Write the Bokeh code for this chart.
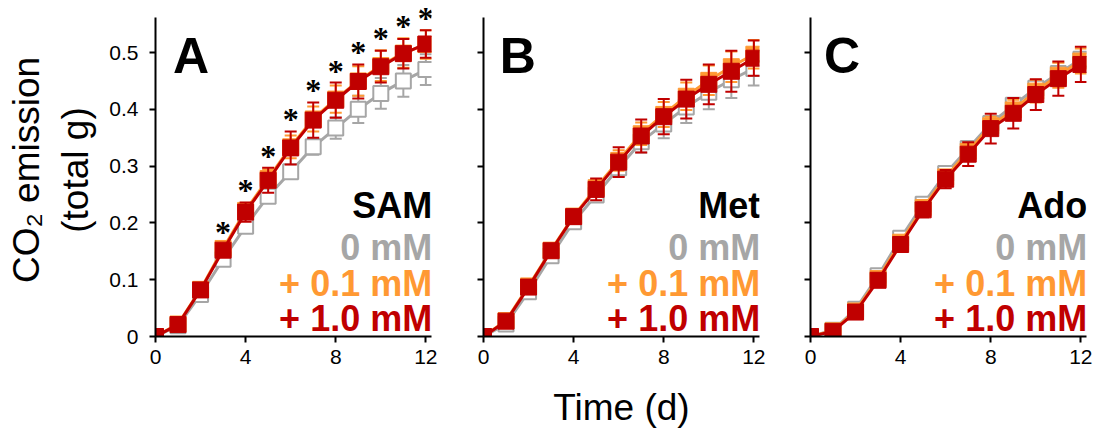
from bokeh.plotting import figure
from bokeh.layouts import row
from bokeh.models import Label, LabelSet, FixedTicker, Range1d, ColumnDataSource
from bokeh.embed import file_html
from bokeh.resources import INLINE

days = list(range(13))
x_ticks = [0, 4, 8, 12]
y_ticks = [0, 0.1, 0.2, 0.3, 0.4, 0.5]
y_tick_labels = {0: "0", 0.1: "0.1", 0.2: "0.2", 0.3: "0.3", 0.4: "0.4", 0.5: "0.5"}

panel_letters = ["A", "B", "C"]
compounds = ["SAM", "Met", "Ado"]
dose_labels = ["0 mM", "+ 0.1 mM", "+ 1.0 mM"]

# Panel A (SAM)
sam_0 = [0, 0.019, 0.074, 0.136, 0.194, 0.247, 0.290, 0.334, 0.367, 0.400, 0.428, 0.450, 0.470]
sam_0_err = [0, 0.003, 0.005, 0.008, 0.010, 0.011, 0.012, 0.014, 0.019, 0.024, 0.027, 0.028, 0.027]
sam_01 = [0, 0.022, 0.083, 0.155, 0.222, 0.278, 0.334, 0.383, 0.418, 0.450, 0.477, 0.499, 0.514]
sam_01_err = [0, 0.003, 0.005, 0.008, 0.012, 0.016, 0.020, 0.022, 0.024, 0.026, 0.027, 0.026, 0.025]
sam_10 = [0, 0.021, 0.082, 0.152, 0.219, 0.275, 0.332, 0.381, 0.416, 0.449, 0.475, 0.498, 0.515]
sam_10_err = [0, 0.003, 0.006, 0.008, 0.017, 0.022, 0.029, 0.031, 0.031, 0.030, 0.028, 0.026, 0.024]
sam_sig = [False, False, False, True, True, True, True, True, True, True, True, True, True]

# Panel B (Met)
met_0 = [0, 0.022, 0.079, 0.142, 0.202, 0.249, 0.297, 0.343, 0.374, 0.404, 0.430, 0.452, 0.472]
met_0_err = [0, 0.003, 0.005, 0.008, 0.010, 0.012, 0.015, 0.019, 0.025, 0.028, 0.030, 0.032, 0.030]
met_01 = [0, 0.028, 0.089, 0.152, 0.212, 0.262, 0.310, 0.357, 0.391, 0.423, 0.451, 0.475, 0.497]
met_01_err = [0, 0.003, 0.005, 0.007, 0.010, 0.014, 0.018, 0.020, 0.022, 0.024, 0.026, 0.027, 0.025]
met_10 = [0, 0.027, 0.087, 0.151, 0.211, 0.259, 0.307, 0.353, 0.387, 0.418, 0.444, 0.467, 0.490]
met_10_err = [0, 0.004, 0.006, 0.008, 0.012, 0.019, 0.026, 0.029, 0.031, 0.034, 0.035, 0.036, 0.031]
met_sig = [False] * 13

# Panel C (Ado)
ado_0 = [0, 0.011, 0.048, 0.107, 0.173, 0.233, 0.287, 0.331, 0.375, 0.407, 0.437, 0.463, 0.488]
ado_0_err = [0, 0.002, 0.003, 0.005, 0.006, 0.007, 0.008, 0.009, 0.010, 0.011, 0.012, 0.013, 0.012]
ado_01 = [0, 0.010, 0.045, 0.102, 0.166, 0.227, 0.281, 0.326, 0.371, 0.399, 0.432, 0.460, 0.485]
ado_01_err = [0, 0.002, 0.004, 0.006, 0.008, 0.010, 0.012, 0.014, 0.016, 0.018, 0.020, 0.022, 0.022]
ado_10 = [0, 0.009, 0.043, 0.099, 0.162, 0.223, 0.277, 0.321, 0.366, 0.393, 0.426, 0.454, 0.479]
ado_10_err = [0, 0.002, 0.004, 0.007, 0.010, 0.013, 0.016, 0.021, 0.026, 0.027, 0.027, 0.030, 0.031]
ado_sig = [False] * 13

GRAY = "#a6a6a6"
ORANGE = "#ff9933"
RED = "#c00000"
FONT = "Liberation Sans"

panels = [
    (sam_0, sam_0_err, sam_01, sam_01_err, sam_10, sam_10_err, sam_sig),
    (met_0, met_0_err, met_01, met_01_err, met_10, met_10_err, met_sig),
    (ado_0, ado_0_err, ado_01, ado_01_err, ado_10, ado_10_err, ado_sig),
]
borders_left = [155, 40, 39]
borders_right = [12, 12, 14]
letter_x = [0.78, 0.72, 0.6]
Y_AXIS_TOP = 0.5616

figs = []
for i, (g, ge, o, oe, r, re_, sig) in enumerate(panels):
    p = figure(frame_width=276, frame_height=333, output_backend="svg", toolbar_location=None,
               x_range=Range1d(0, 12.25), y_range=Range1d(0, 0.5863),
               min_border_left=borders_left[i], min_border_right=borders_right[i],
               min_border_top=3, min_border_bottom=101)
    p.outline_line_color = None
    p.xgrid.visible = False
    p.ygrid.visible = False
    p.background_fill_color = "white"
    p.border_fill_color = "white"

    for axes in (p.xaxis, p.yaxis):
        axes.axis_line_width = 2
        axes.axis_line_color = "black"
        axes.major_tick_line_width = 2
        axes.major_tick_line_color = "black"
        axes.major_tick_out = 6
        axes.major_tick_in = 0
        axes.minor_tick_line_color = None
        axes.major_label_text_font = FONT
        axes.major_label_text_font_size = "21px"
        axes.major_label_text_color = "black"
    p.yaxis.bounds = (0, Y_AXIS_TOP)
    p.xaxis.ticker = FixedTicker(ticks=x_ticks)
    p.yaxis.ticker = FixedTicker(ticks=y_ticks)
    p.xaxis.major_label_standoff = 7
    if i == 0:
        p.yaxis.major_label_overrides = y_tick_labels
        p.yaxis.major_label_standoff = 11
        p.yaxis.axis_label = "CO\u2082 emission\n(total g)"
        p.yaxis.axis_label_text_font = FONT
        p.yaxis.axis_label_text_font_size = "37px"
        p.yaxis.axis_label_text_font_style = "normal"
        p.yaxis.axis_label_text_color = "black"
        p.yaxis.axis_label_standoff = 10
    else:
        p.yaxis.major_label_text_font_size = "1px"
        p.yaxis.major_label_text_color = None
        p.yaxis.major_label_standoff = 0
    if i == 1:
        p.xaxis.axis_label = "Time (d)"
        p.xaxis.axis_label_text_font = FONT
        p.xaxis.axis_label_text_font_size = "37px"
        p.xaxis.axis_label_text_font_style = "normal"
        p.xaxis.axis_label_text_color = "black"
        p.xaxis.axis_label_standoff = 20

    series = [(g, ge, GRAY, False), (o, oe, ORANGE, True), (r, re_, RED, True)]
    for vals, errs, col, filled in series:
        lo = [v - e for v, e in zip(vals, errs)]
        hi = [v + e for v, e in zip(vals, errs)]
        p.segment(x0=days, y0=lo, x1=days, y1=hi, line_color=col, line_width=2)
        p.scatter(x=days, y=lo, marker="dash", size=12, line_color=col, line_width=2)
        p.scatter(x=days, y=hi, marker="dash", size=12, line_color=col, line_width=2)
        p.line(x=days, y=vals, line_color=col, line_width=3)
        if filled:
            p.scatter(x=days, y=vals, marker="square", size=16, fill_color=col, line_color=col, line_width=1)
        else:
            p.scatter(x=days, y=vals, marker="square", size=15, fill_color="white", line_color=col, line_width=2)

    # significance stars
    sx, sy = [], []
    for d in days:
        if sig[d]:
            sx.append(d)
            sy.append(max(g[d] + ge[d], o[d] + oe[d], r[d] + re_[d]))
    if sx:
        star_src = ColumnDataSource(dict(x=sx, y=sy, t=["*"] * len(sx)))
        p.add_layout(LabelSet(x="x", y="y", text="t", source=star_src, text_font=FONT,
                              text_font_size="32px", text_font_style="bold", text_align="center",
                              text_baseline="alphabetic", y_offset=1, text_color="black"))

    p.add_layout(Label(x=letter_x[i], y=0.494, text=panel_letters[i], text_font=FONT,
                       text_font_size="50px", text_font_style="bold", text_align="left",
                       text_baseline="alphabetic", text_color="black"))
    label_specs = [(compounds[i], "black", 0.2301), (dose_labels[0], GRAY, 0.1562),
                   (dose_labels[1], ORANGE, 0.0928), (dose_labels[2], RED, 0.0312)]
    for txt, col, yy in label_specs:
        p.add_layout(Label(x=12.28, y=yy, text=txt, text_font=FONT, text_font_size="36px",
                           text_font_style="bold", text_align="right", text_baseline="alphabetic",
                           text_color=col))
    figs.append(p)

layout = row(*figs, spacing=0)
open("out.html", "w").write(file_html(layout, INLINE))
